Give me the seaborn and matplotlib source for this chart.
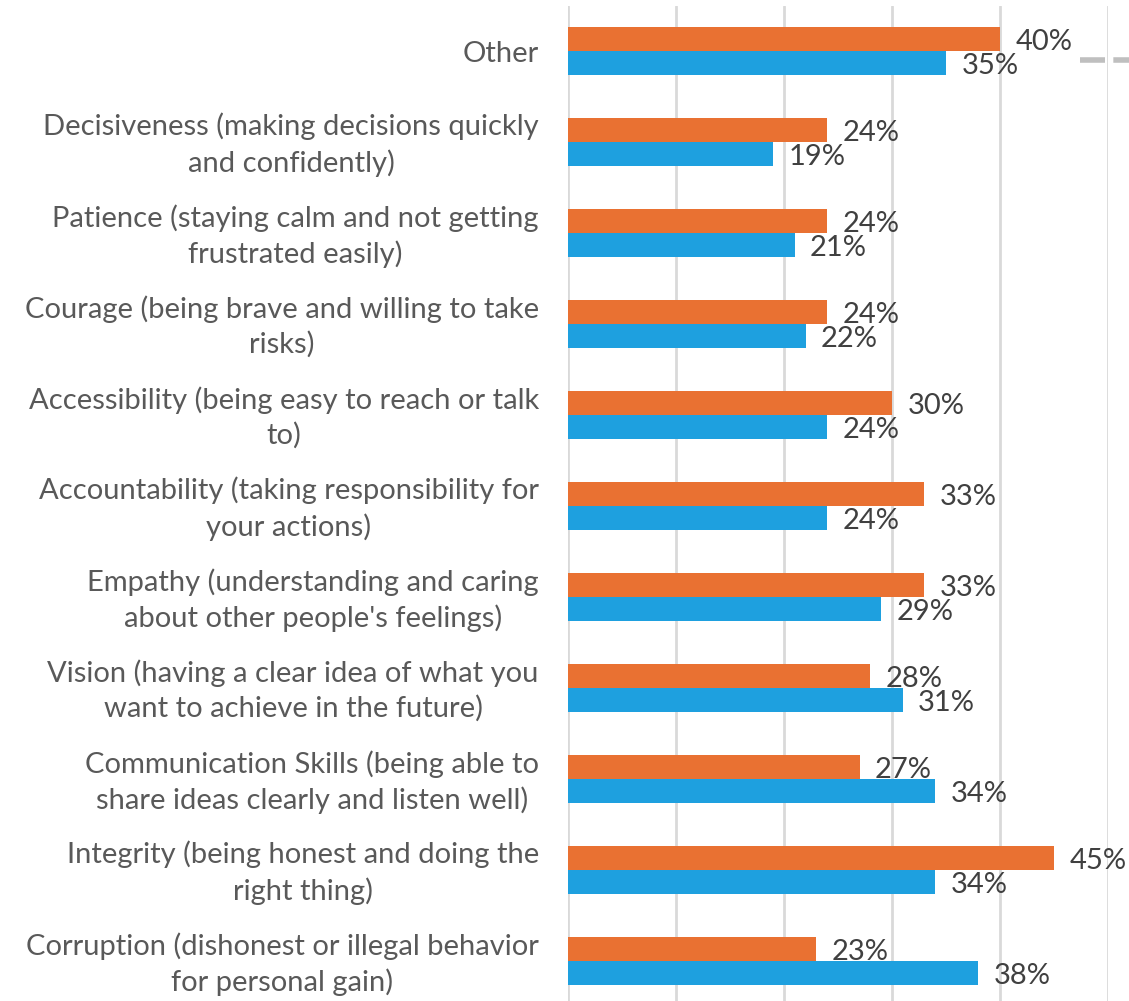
import matplotlib
matplotlib.use("Agg")
import matplotlib.pyplot as plt
import matplotlib.transforms as mtransforms
from matplotlib.lines import Line2D
import seaborn as sns
import pandas as pd

categories = [
    "Other",
    "Decisiveness (making decisions quickly\nand confidently)",
    "Patience (staying calm and not getting\nfrustrated easily)",
    "Courage (being brave and willing to take\nrisks)",
    "Accessibility (being easy to reach or talk\nto)",
    "Accountability (taking responsibility for\nyour actions)",
    "Empathy (understanding and caring\nabout other people's feelings)",
    "Vision (having a clear idea of what you\nwant to achieve in the future)",
    "Communication Skills (being able to\nshare ideas clearly and listen well)",
    "Integrity (being honest and doing the\nright thing)",
    "Corruption (dishonest or illegal behavior\nfor personal gain)",
]
series_names = ["Series 1", "Series 2"]
series_1 = [40, 24, 24, 24, 30, 33, 33, 28, 27, 45, 23]
series_2 = [35, 19, 21, 22, 24, 24, 29, 31, 34, 34, 38]
x_ticks = [0, 10, 20, 30, 40, 50]

colors = ["#E97132", "#1EA0DF"]

df = pd.DataFrame({
    "category": categories * 2,
    "series": [series_names[0]] * len(categories) + [series_names[1]] * len(categories),
    "value": series_1 + series_2,
})

sns.set_theme(style="white")
plt.rcParams["font.family"] = ["Lato", "DejaVu Sans"]

fig = plt.figure(figsize=(11.29, 10.01), dpi=100)
ax = fig.add_axes([568 / 1129, 1 - 1006.5 / 1001, 540 / 1129, 1001 / 1001])

sns.barplot(data=df, y="category", x="value", hue="series", order=categories,
            hue_order=series_names, palette=colors, width=0.527, saturation=1,
            orient="h", legend=False, ax=ax, linewidth=0)

ax.set_xlim(0, 50)
ax.set_xticks(x_ticks)
ax.set_xticklabels([])
ax.tick_params(axis="x", length=0)
ax.tick_params(axis="y", length=0, pad=21, labelsize=21, labelcolor="#595959")
lift = mtransforms.ScaledTranslation(0, 4 / 100, fig.dpi_scale_trans)
for lbl in ax.get_yticklabels():
    lbl.set_multialignment("center")
    lbl.set_linespacing(1.38)
    if "\n" in lbl.get_text():
        lbl.set_transform(lbl.get_transform() + lift)
ax.set_xlabel("")
ax.set_ylabel("")
ax.xaxis.grid(True, color="#D9D9D9", linewidth=2)
ax.set_axisbelow(True)
for s in ax.spines.values():
    s.set_visible(False)

for container in ax.containers:
    for bar in container:
        w = bar.get_width()
        ax.annotate(f"{int(round(w))}%", xy=(w, bar.get_y() + bar.get_height() / 2),
                    xytext=(11, -2.5), textcoords="offset points", va="center",
                    ha="left", fontsize=21, color="#404040", annotation_clip=False)

# partially visible legend key on the right
fig.add_artist(Line2D([1080 / 1129, 1.0], [1 - 60 / 1001, 1 - 60 / 1001],
                      transform=fig.transFigure, color="#BFBFBF",
                      linewidth=4, linestyle=(0, (4.5, 1.5))))

fig.savefig("out.png", dpi=100)
